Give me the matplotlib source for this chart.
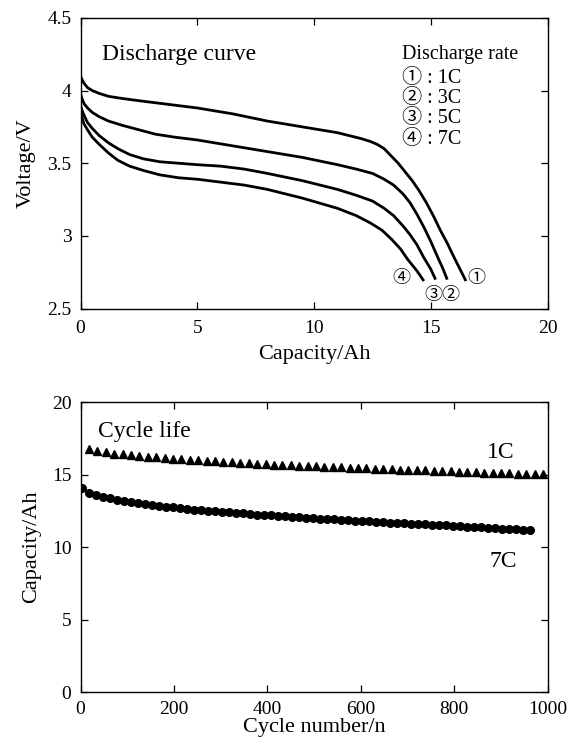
import matplotlib
matplotlib.use("Agg")
import matplotlib.pyplot as plt

plt.rcParams['font.family'] = ['Liberation Serif', 'Noto Sans CJK JP']

# discharge curves (capacity in Ah, voltage in V)
cap_1c = [0, 0.05, 0.15, 0.3, 0.5, 0.8, 1.2, 1.8, 2.5, 4.0, 5.0, 6.5, 8.0, 9.5,
          11.0, 11.5, 12.0, 12.4, 12.7, 13.0, 13.3, 13.6, 13.9, 14.2, 14.5, 14.8,
          15.1, 15.4, 15.7, 16.0, 16.25, 16.5]
volt_1c = [4.10, 4.08, 4.05, 4.02, 4.00, 3.98, 3.96, 3.945, 3.93, 3.90, 3.88, 3.84,
           3.79, 3.75, 3.71, 3.69, 3.67, 3.65, 3.63, 3.60, 3.55, 3.50, 3.44, 3.38,
           3.31, 3.23, 3.14, 3.04, 2.95, 2.85, 2.77, 2.69]
cap_3c = [0, 0.05, 0.15, 0.3, 0.5, 0.8, 1.2, 1.8, 2.5, 3.2, 4.0, 5.0, 6.5, 8.0,
          9.5, 11.0, 11.8, 12.5, 13.0, 13.4, 13.8, 14.1, 14.4, 14.7, 15.0, 15.3,
          15.5, 15.7]
volt_3c = [3.98, 3.95, 3.91, 3.88, 3.85, 3.82, 3.79, 3.76, 3.73, 3.70, 3.68, 3.66,
           3.62, 3.58, 3.54, 3.49, 3.46, 3.43, 3.39, 3.35, 3.29, 3.23, 3.15, 3.06,
           2.96, 2.85, 2.78, 2.70]
cap_5c = [0, 0.05, 0.15, 0.3, 0.5, 0.8, 1.2, 1.6, 2.1, 2.7, 3.4, 4.2, 5.0, 6.0,
          7.0, 8.0, 9.5, 11.0, 11.8, 12.5, 13.0, 13.4, 13.8, 14.1, 14.4, 14.7,
          15.0, 15.2]
volt_5c = [3.90, 3.87, 3.83, 3.78, 3.74, 3.69, 3.64, 3.60, 3.56, 3.53, 3.51, 3.50,
           3.49, 3.48, 3.46, 3.43, 3.38, 3.32, 3.28, 3.24, 3.19, 3.14, 3.07, 3.01,
           2.94, 2.85, 2.77, 2.70]
cap_7c = [0, 0.05, 0.15, 0.3, 0.5, 0.8, 1.2, 1.6, 2.1, 2.7, 3.4, 4.2, 5.0, 6.0,
          7.0, 8.0, 9.5, 11.0, 11.8, 12.4, 12.9, 13.3, 13.7, 14.0, 14.4, 14.7]
volt_7c = [3.85, 3.82, 3.77, 3.73, 3.68, 3.63, 3.57, 3.52, 3.48, 3.45, 3.42, 3.40,
           3.39, 3.37, 3.35, 3.32, 3.26, 3.19, 3.14, 3.09, 3.04, 2.98, 2.91, 2.84,
           2.76, 2.69]

# cycle life
cycles_1c = [18, 36, 54, 72, 90, 108, 126, 144, 162, 180, 198, 216, 234, 252, 270,
             288, 306, 324, 342, 360, 378, 396, 414, 432, 450, 468, 486, 504, 522,
             540, 558, 576, 594, 612, 630, 648, 666, 684, 702, 720, 738, 756, 774,
             792, 810, 828, 846, 864, 882, 900, 918, 936, 954, 972, 990]
life_1c = [16.80, 16.63, 16.54, 16.46, 16.40, 16.34, 16.29, 16.24, 16.19, 16.14,
           16.10, 16.06, 16.02, 15.98, 15.95, 15.92, 15.88, 15.85, 15.82, 15.79,
           15.76, 15.73, 15.70, 15.68, 15.65, 15.62, 15.60, 15.57, 15.55, 15.52,
           15.50, 15.48, 15.45, 15.43, 15.41, 15.39, 15.37, 15.35, 15.33, 15.31,
           15.29, 15.27, 15.25, 15.23, 15.21, 15.19, 15.17, 15.15, 15.13, 15.11,
           15.10, 15.08, 15.06, 15.04, 15.02]
cycles_7c = [3, 18, 33, 48, 63, 78, 93, 108, 123, 138, 153, 168, 183, 198, 213, 228,
             243, 258, 273, 288, 303, 318, 333, 348, 363, 378, 393, 408, 423, 438,
             453, 468, 483, 498, 513, 528, 543, 558, 573, 588, 603, 618, 633, 648,
             663, 678, 693, 708, 723, 738, 753, 768, 783, 798, 813, 828, 843, 858,
             873, 888, 903, 918, 933, 948, 963]
life_7c = [14.05, 13.72, 13.58, 13.46, 13.36, 13.26, 13.18, 13.11, 13.04, 12.98,
           12.92, 12.86, 12.80, 12.74, 12.69, 12.64, 12.60, 12.55, 12.51, 12.47,
           12.43, 12.40, 12.36, 12.33, 12.29, 12.25, 12.22, 12.19, 12.16, 12.13,
           12.10, 12.07, 12.04, 12.01, 11.98, 11.95, 11.92, 11.89, 11.86, 11.83,
           11.80, 11.78, 11.75, 11.73, 11.70, 11.68, 11.65, 11.62, 11.60, 11.57,
           11.55, 11.52, 11.50, 11.47, 11.45, 11.42, 11.40, 11.37, 11.35, 11.32,
           11.29, 11.26, 11.23, 11.20, 11.17]

rate_labels = ['① : 1C', '② : 3C', '③ : 5C', '④ : 7C']

fig = plt.figure(figsize=(5.67, 7.42), dpi=100)
ax1 = fig.add_axes([0.142, 0.584, 0.824, 0.392])
ax2 = fig.add_axes([0.142, 0.067, 0.824, 0.391])

for ax in (ax1, ax2):
    ax.tick_params(direction='in', top=True, right=True, length=5, width=0.9,
                   labelsize=14)
    ax.tick_params(axis='y', pad=6.5)
    for s in ax.spines.values():
        s.set_linewidth(1.0)
ax1.tick_params(axis='x', pad=8)
ax2.tick_params(axis='x', pad=6)

# top: discharge curves
for c, v in [(cap_1c, volt_1c), (cap_3c, volt_3c), (cap_5c, volt_5c), (cap_7c, volt_7c)]:
    ax1.plot(c, v, color='black', lw=2.0, solid_capstyle='butt', solid_joinstyle='round')
ax1.set_xlim(0, 20)
ax1.set_ylim(2.5, 4.5)
ax1.set_xticks([0, 5, 10, 15, 20])
ax1.set_yticks([2.5, 3, 3.5, 4, 4.5])
ax1.set_yticklabels(['2.5', '3', '3.5', '4', '4.5'])
ax1.set_xlabel('Capacity/Ah', fontsize=16, labelpad=6)
ax1.set_ylabel('Voltage/V', fontsize=16, labelpad=8)

ax1.text(0.9, 4.245, 'Discharge curve', fontsize=17, va='center')
ax1.text(13.75, 4.245, 'Discharge rate', fontsize=14.5, va='center')
for i, lab in enumerate(rate_labels):
    ax1.text(13.75, 4.085 - i * 0.14, lab, fontsize=14.5, va='center')

ax1.text(16.95, 2.71, '①', fontsize=13, va='center', ha='center')
ax1.text(15.85, 2.59, '②', fontsize=13, va='center', ha='center')
ax1.text(15.1, 2.59, '③', fontsize=13, va='center', ha='center')
ax1.text(13.75, 2.71, '④', fontsize=13, va='center', ha='center')

# bottom: cycle life
ax2.plot(cycles_1c, life_1c, ls='none', marker='^', ms=6, color='black')
ax2.plot(cycles_7c, life_7c, ls='none', marker='o', ms=5.5, color='black')
ax2.set_xlim(0, 1000)
ax2.set_ylim(0, 20)
ax2.set_xticks([0, 200, 400, 600, 800, 1000])
ax2.set_yticks([0, 5, 10, 15, 20])
ax2.set_xlabel('Cycle number/n', fontsize=16, labelpad=0.5)
ax2.set_ylabel('Capacity/Ah', fontsize=16, labelpad=8)

ax2.text(38, 18.0, 'Cycle life', fontsize=17, va='center')
ax2.text(870, 16.55, '1C', fontsize=17, va='center')
ax2.text(876, 9.0, '7C', fontsize=17, va='center')

fig.savefig('out.png', dpi=100)
